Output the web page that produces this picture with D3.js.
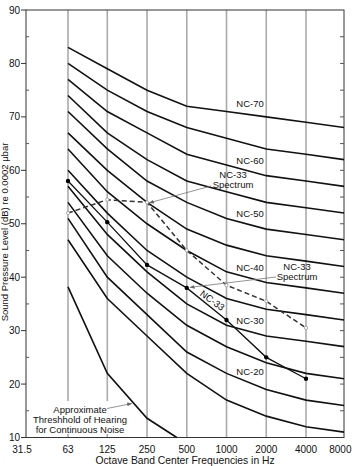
<!DOCTYPE html>
<html><head><meta charset="utf-8">
<script src="https://cdn.jsdelivr.net/npm/d3@7"></script>
<style>body{margin:0;background:#fff}svg{display:block;font-family:"Liberation Sans",Arial,Helvetica,sans-serif}</style>
</head><body><svg id="c" width="352" height="466"></svg>
<script>
// ---- data ----
const freqLabels = ["31.5","63","125","250","500","1000","2000","4000","8000"];
const freqs = [31.5,63,125,250,500,1000,2000,4000,8000];
const gridFreqs = [63,125,250,500,1000,2000,4000];
const ncFreqs = [63,125,250,500,1000,2000,4000,8000];
const nc70 = [83,79,75,72,71,70,69,68];
const nc65 = [80,75,71,68,66,64,63,62];
const nc60 = [77,71,67,63,61,59,58,57];
const nc55 = [74,67,62,58,56,54,53,52];
const nc50 = [71,64,58,54,51,49,48,47];
const nc45 = [67,60,54,49,46,44,43,42];
const nc40 = [64,56,50,45,41,39,38,37];
const nc35 = [60,52,45,40,36,34,33,32];
const nc30 = [57,48,41,35,31,29,28,27];
const nc25 = [54,44,37,31,27,24,22,21];
const nc20 = [51,40,33,26,22,19,17,16];
const nc15 = [47,36,29,22,17,14,12,11];
const ncNames = ["NC-70","NC-65","NC-60","NC-55","NC-50","NC-45","NC-40","NC-35","NC-30","NC-25","NC-20","NC-15"];
const ncLabeled = ["NC-70","NC-60","NC-50","NC-40","NC-30","NC-20"];
const yTicks = [10,20,30,40,50,60,70,80,90];
const yMinorTicks = [15,25,35,45,55,65,75,85];
const spectrumFreqs = [63,125,250,500,1000,2000,4000];
const spectrumDashed = [52,54.5,54,45,38.5,35.5,30.5];
const spectrumSolid = [58,50.3,42.3,38,32,25,21];
const thresholdFreqs = [63,125,250,420];
const threshold = [38.2,22,13.6,10];
const thresholdText = ["Approximate","Threshhold of Hearing","for Continuous Noise"];
const yTitle = "Sound Pressure Level (dB) re 0.0002 \u03bcbar";
const xTitle = "Octave Band Center Frequencies in Hz";

// ---- layout ----
const svg = d3.select("#c");
const L = 26, R = 344, T = 10, B = 437.5;
const x = d3.scaleLog().domain([31.5, 63, 4000, 8000]).range([L, 68, 306, R]);
const y = d3.scaleLinear().domain([10, 90]).range([B, T]);
const ncSeries = [nc70,nc65,nc60,nc55,nc50,nc45,nc40,nc35,nc30,nc25,nc20,nc15];

svg.append("rect").attr("width",352).attr("height",466).attr("fill","#fff");

// vertical grid lines
svg.append("g").selectAll("line").data(gridFreqs).join("line")
  .attr("x1", d => x(d)).attr("x2", d => x(d))
  .attr("y1", T).attr("y2", B)
  .attr("stroke", "#aaa").attr("stroke-width", 1.6);

// frame
svg.append("rect").attr("x", L).attr("y", T).attr("width", R - L).attr("height", B - T)
  .attr("fill", "none").attr("stroke", "#333").attr("stroke-width", 1);

// left ticks
svg.append("g").selectAll("line").data(yTicks).join("line")
  .attr("x1", L - 5).attr("x2", L).attr("y1", d => y(d)).attr("y2", d => y(d))
  .attr("stroke", "#333");
svg.append("g").selectAll("line").data(yMinorTicks).join("line")
  .attr("x1", L).attr("x2", L + 3).attr("y1", d => y(d)).attr("y2", d => y(d))
  .attr("stroke", "#555");
// right ticks
svg.append("g").selectAll("line").data(yTicks.concat(yMinorTicks).filter(d => d > 10 && d < 90)).join("line")
  .attr("x1", R - 4).attr("x2", R).attr("y1", d => y(d)).attr("y2", d => y(d))
  .attr("stroke", "#555");

// y tick labels
svg.append("g").selectAll("text").data(yTicks).join("text")
  .attr("x", L - 6).attr("y", d => y(d)).attr("dy", "0.35em")
  .attr("text-anchor", "end").attr("font-size", 10).attr("fill", "#111")
  .text(d => d);

// x tick labels
const nF = freqs.length;
svg.append("g").selectAll("text").data(freqs).join("text")
  .attr("x", (d, i) => i === nF - 1 ? 351.5 : x(d) + (i === 0 ? -4 : 0))
  .attr("y", 452.5).attr("text-anchor", (d, i) => i === nF - 1 ? "end" : "middle")
  .attr("font-size", 10).attr("fill", "#111")
  .text((d, i) => freqLabels[i]);

// titles
svg.append("text").attr("x", (L + R) / 2).attr("y", 464).attr("text-anchor", "middle")
  .attr("font-size", 10.3).attr("fill", "#111").text(xTitle);
svg.append("text").attr("transform", "translate(8,232) rotate(-90)").attr("text-anchor", "middle")
  .attr("font-size", 9.5).attr("fill", "#111").text(yTitle);

// NC curves
const line = d3.line().x(d => x(d[0])).y(d => y(d[1]));
svg.append("g").selectAll("path").data(ncSeries).join("path")
  .attr("d", s => line(ncFreqs.map((f, i) => [f, s[i]])))
  .attr("fill", "none").attr("stroke", "#111").attr("stroke-width", 1.6);

// threshold curve
svg.append("path").attr("d", line(thresholdFreqs.map((f, i) => [f, threshold[i]])))
  .attr("fill", "none").attr("stroke", "#111").attr("stroke-width", 1.6);

// NC labels
function valAt(s, f) {
  const lf = Math.log2(f);
  for (let i = 0; i < ncFreqs.length - 1; i++) {
    const a = Math.log2(ncFreqs[i]), b = Math.log2(ncFreqs[i + 1]);
    if (lf >= a && lf <= b) return s[i] + (s[i + 1] - s[i]) * (lf - a) / (b - a);
  }
  return s[s.length - 1];
}
const labelFreq = x.invert(250);
svg.append("g").selectAll("text").data(ncLabeled).join("text")
  .attr("x", 250).attr("text-anchor", "middle")
  .attr("y", n => y(valAt(ncSeries[ncNames.indexOf(n)], labelFreq)) - 7.5)
  .attr("font-size", 9.5).attr("fill", "#111").text(n => n);

// arrow marker
const defs = svg.append("defs");
defs.append("marker").attr("id", "arr").attr("viewBox", "0 0 10 10")
  .attr("refX", 10).attr("refY", 5).attr("markerWidth", 6).attr("markerHeight", 6)
  .attr("orient", "auto")
  .append("path").attr("d", "M0,1 L10,5 L0,9 Z").attr("fill", "#666");

// dashed spectrum
const specD = spectrumFreqs.map((f, i) => [f, spectrumDashed[i]]);
svg.append("path").attr("d", line(specD)).attr("fill", "none")
  .attr("stroke", "#333").attr("stroke-width", 1.5).attr("stroke-dasharray", "5,3");
svg.append("g").selectAll("circle").data(specD).join("circle")
  .attr("cx", d => x(d[0])).attr("cy", d => y(d[1])).attr("r", 1.6)
  .attr("fill", "#fff").attr("stroke", "#999").attr("stroke-width", 0.8);

// solid spectrum
const specS = spectrumFreqs.map((f, i) => [f, spectrumSolid[i]]);
svg.append("path").attr("d", line(specS)).attr("fill", "none")
  .attr("stroke", "#111").attr("stroke-width", 1.3);
svg.append("g").selectAll("circle").data(specS).join("circle")
  .attr("cx", d => x(d[0])).attr("cy", d => y(d[1])).attr("r", 2.2).attr("fill", "#000");

// NC-33 rotated label along solid line
{
  const p1 = [x(500), y(spectrumSolid[3])], p2 = [x(1000), y(spectrumSolid[4])];
  const ang = Math.atan2(p2[1] - p1[1], p2[0] - p1[0]) * 180 / Math.PI;
  const cx = p1[0] + (p2[0] - p1[0]) * 0.55, cy = p1[1] + (p2[1] - p1[1]) * 0.55;
  svg.append("text").attr("transform", `translate(${cx},${cy}) rotate(${ang - 3}) translate(0,-3)`)
    .attr("text-anchor", "middle").attr("font-size", 9.5).attr("fill", "#111").text("NC-33");
}

// spectrum annotations
function annot(tx, ty, lines, from, to) {
  svg.append("line").attr("x1", from[0]).attr("y1", from[1]).attr("x2", to[0]).attr("y2", to[1])
    .attr("stroke", "#777").attr("stroke-width", 0.8).attr("marker-end", "url(#arr)");
  const t = svg.append("text").attr("text-anchor", "middle").attr("font-size", 9.5).attr("fill", "#111");
  lines.forEach((s, i) => t.append("tspan").attr("x", tx).attr("y", ty + i * 10).text(s));
}
annot(233, 178, ["NC-33", "Spectrum"], [211, 186], [x(250) + 2, y(spectrumDashed[2]) + 0.5]);
annot(297, 270, ["NC-33", "Spectrum"], [276, 277], [x(500) + 3, y(spectrumSolid[3]) - 0.5]);

// threshold annotation with white background
svg.append("rect").attr("x", 34).attr("y", 401).attr("width", 93).attr("height", 33).attr("fill", "#fff");
{
  const t = svg.append("text").attr("text-anchor", "middle").attr("font-size", 9.5).attr("fill", "#111");
  thresholdText.forEach((s, i) => t.append("tspan").attr("x", 80).attr("y", 412.5 + i * 10).text(s));
  svg.append("line").attr("x1", 107).attr("y1", 408.5).attr("x2", 132).attr("y2", 403.5)
    .attr("stroke", "#777").attr("stroke-width", 0.8).attr("marker-end", "url(#arr)");
}
</script></body></html>
